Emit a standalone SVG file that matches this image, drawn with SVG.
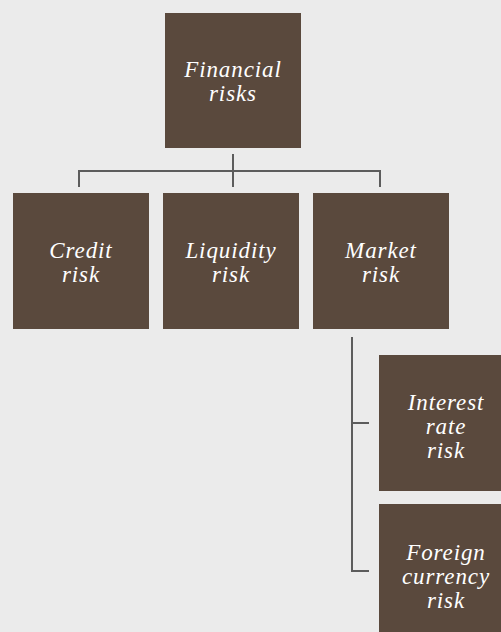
<svg xmlns="http://www.w3.org/2000/svg" width="501" height="632" viewBox="0 0 501 632">
<style>
.box{fill:#5a493d}
.t{fill:#ffffff;font-family:"Liberation Serif","DejaVu Serif",serif;font-style:italic;font-size:23px;letter-spacing:0.9px;text-anchor:middle}
.c{fill:none;stroke:#5c5c5c;stroke-width:2}
</style>
<rect width="501" height="632" fill="#ebebeb"/>
<g id="connectors">
<path class="c" d="M233 154V187M79 187V171H380V187"/>
<path class="c" d="M352 337V571H369M352 423H369"/>
</g>
<g id="financial-risks"><rect class="box" x="165" y="13" width="136" height="135"/><text class="t" x="233" y="77">Financial</text><text class="t" x="233" y="101">risks</text></g>
<g id="credit-risk"><rect class="box" x="13" y="193" width="136" height="136"/><text class="t" x="81" y="258">Credit</text><text class="t" x="81" y="282">risk</text></g>
<g id="liquidity-risk"><rect class="box" x="163" y="193" width="136" height="136"/><text class="t" x="231" y="258">Liquidity</text><text class="t" x="231" y="282">risk</text></g>
<g id="market-risk"><rect class="box" x="313" y="193" width="136" height="136"/><text class="t" x="381" y="258">Market</text><text class="t" x="381" y="282">risk</text></g>
<g id="interest-rate-risk"><rect class="box" x="379" y="355" width="136" height="136"/><text class="t" x="446" y="410">Interest</text><text class="t" x="446" y="434">rate</text><text class="t" x="446" y="458">risk</text></g>
<g id="foreign-currency-risk"><rect class="box" x="379" y="504" width="136" height="136"/><text class="t" x="446" y="560">Foreign</text><text class="t" x="446" y="584">currency</text><text class="t" x="446" y="608">risk</text></g>
</svg>
